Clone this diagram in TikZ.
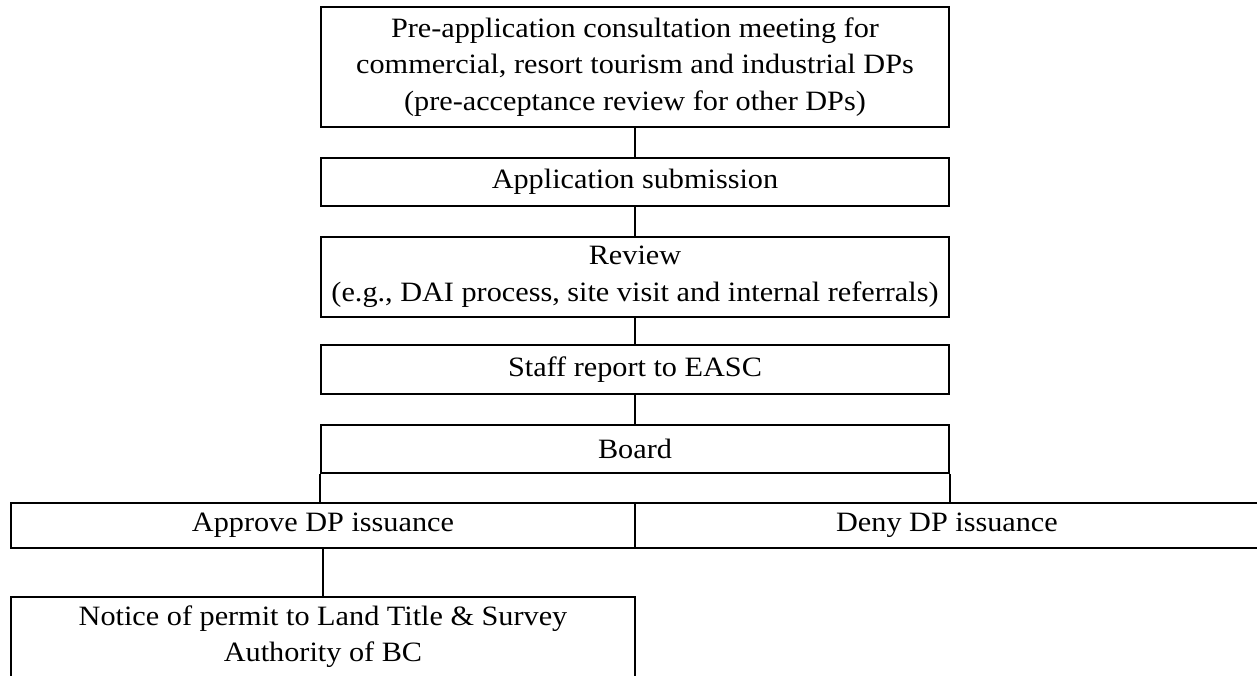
\documentclass[tikz,border=0pt]{standalone}
\usepackage{fontspec}
\setmainfont{Liberation Serif}[FakeStretch=1.08]
\begin{document}
\begin{tikzpicture}[x=0.75pt,y=-0.75pt,
  box/.style={draw, line width=1.4pt, inner sep=0pt, align=center,
    font=\fontsize{21pt}{27.5pt}\selectfont},
  wide/.style={box, minimum width=628*0.75pt},
  half/.style={box, minimum width=624*0.75pt},
  link/.style={line width=1.4pt}]
\useasboundingbox (0,0) rectangle (1257,675);
\clip (0,0) rectangle (1257,675);
\node[wide, minimum height=120*0.75pt] (pre) at (635,67)
  {Pre-application consultation meeting for\\commercial, resort tourism and industrial DPs\\(pre-acceptance review for other DPs)};
\node[wide, minimum height=48*0.75pt] (app) at (635,182) {Application submission};
\node[wide, minimum height=80*0.75pt] (rev) at (635,277)
  {Review\\(e.g., DAI process, site visit and internal referrals)};
\node[wide, minimum height=49*0.75pt] (staff) at (635,369.5) {Staff report to EASC};
\node[wide, minimum height=48*0.75pt] (board) at (635,449) {Board};
\node[half, minimum height=45*0.75pt] (approve) at (323,525.5) {Approve DP issuance};
\node[half, minimum height=45*0.75pt] (deny) at (947,525.5) {Deny DP issuance};
\node[half, anchor=north, minimum height=140*0.75pt] (notice) at (323,596) {};
\node[align=center, anchor=north, inner sep=0pt, font=\fontsize{21pt}{27.5pt}\selectfont] (noticetext) at ([yshift=-7pt]notice.north)
  {Notice of permit to Land Title \& Survey\\Authority of BC};
\draw[link] (pre) -- (app);
\draw[link] (app) -- (rev);
\draw[link] (rev) -- (staff);
\draw[link] (staff) -- (board);
\draw[link] (board.south west) -- (board.south west |- approve.north);
\draw[link] (board.south east) -- (board.south east |- deny.north);
\draw[link] (approve) -- (notice);
\end{tikzpicture}
\end{document}
